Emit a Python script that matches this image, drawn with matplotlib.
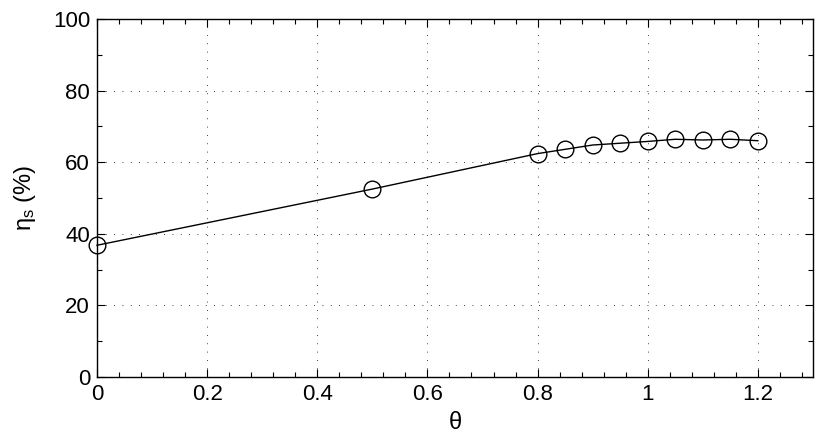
import matplotlib
matplotlib.use("Agg")
import matplotlib.pyplot as plt
from matplotlib.ticker import MultipleLocator

theta = [0.0, 0.5, 0.8, 0.85, 0.9, 0.95, 1.0, 1.05, 1.1, 1.15, 1.2]
eta_s = [36.8, 52.5, 62.4, 63.6, 64.8, 65.3, 65.8, 66.4, 66.2, 66.4, 66.0]
xticks = [0, 0.2, 0.4, 0.6, 0.8, 1.0, 1.2]
xticklabels = ["0", "0.2", "0.4", "0.6", "0.8", "1", "1.2"]
yticks = [0, 20, 40, 60, 80, 100]

plt.rcParams['font.family'] = ['Liberation Sans', 'DejaVu Sans']
plt.rcParams['mathtext.fontset'] = 'custom'
plt.rcParams['mathtext.rm'] = 'Liberation Sans'
fig = plt.figure(figsize=(8.22, 4.41), dpi=100)
ax = fig.add_axes([0.118, 0.145, 0.871, 0.812])

ax.plot(theta, eta_s, color='black', linewidth=1.0, marker='o', markersize=12,
        markerfacecolor='none', markeredgecolor='black', markeredgewidth=1.0, clip_on=False, zorder=3)

ax.set_xlim(0, 1.3)
ax.set_ylim(0, 100)
ax.set_xticks(xticks)
ax.set_xticklabels(xticklabels)
ax.set_yticks(yticks)
ax.xaxis.set_minor_locator(MultipleLocator(0.04))
ax.yaxis.set_minor_locator(MultipleLocator(10))
ax.tick_params(which='both', direction='in', top=True, right=True, labelsize=16, width=0.8, colors='black')
ax.tick_params(which='major', length=6, pad=5)
ax.tick_params(which='minor', length=3.5)
ax.grid(True, which='major', color='black', linestyle=(0, (1, 9)), linewidth=0.6)
for s in ax.spines.values():
    s.set_linewidth(1.0)

ax.set_xlabel('θ', fontsize=17, labelpad=5)
ax.set_ylabel(r'$\mathregular{\eta_s}$ (%)', fontsize=17, labelpad=11)

fig.savefig("out.png", dpi=100)
